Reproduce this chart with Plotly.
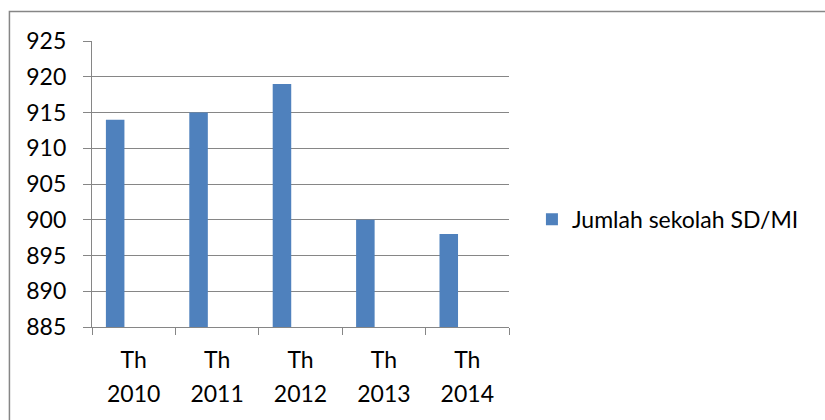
import plotly.graph_objects as go

# School counts per year
years = ["2010", "2011", "2012", "2013", "2014"]
prefix = "Th"
jumlah_sekolah = [914, 915, 919, 900, 898]
series_name = "Jumlah sekolah SD/MI"
y_ticks = [885, 890, 895, 900, 905, 910, 915, 920, 925]

BAR = "#4F81BD"
GRID = "#868686"
FONT = "Lato, 'Open Sans', sans-serif"
LBL = 23

tick_text = [
    f"<span style='font-size:{LBL}px'>{prefix}</span><br>"
    f"<span style='font-size:{LBL}px'>{y}</span>"
    for y in years
]

fig = go.Figure()
fig.add_trace(go.Bar(
    x=years,
    y=jumlah_sekolah,
    name=series_name,
    marker=dict(color=BAR, line=dict(width=0)),
    width=2 / 9,
    offset=-1 / 3,
    showlegend=True,
))

fig.update_layout(
    width=825,
    height=420,
    margin=dict(l=92, r=316, t=41, b=93, pad=0),
    paper_bgcolor="white",
    plot_bgcolor="white",
    font=dict(family=FONT, size=LBL, color="#000000"),
    showlegend=True,
    legend=dict(
        x=1.055, y=0.377, xanchor="left", yanchor="middle",
        font=dict(size=LBL, color="#000000"),
        bgcolor="rgba(0,0,0,0)",
        itemwidth=30,
    ),
    xaxis=dict(
        type="category",
        tickmode="array",
        tickvals=years,
        ticktext=tick_text,
        tickson="boundaries",
        ticks="outside",
        ticklen=7,
        tickwidth=1.3,
        tickcolor=GRID,
        showline=True,
        linecolor=GRID,
        linewidth=1.3,
        showgrid=False,
        tickfont=dict(size=26, family=FONT, color="#000000"),
        ticklabelstandoff=9,
        range=[-0.5, 4.5],
    ),
    yaxis=dict(
        range=[885, 925],
        tickmode="array",
        tickvals=y_ticks,
        ticktext=[str(v) for v in y_ticks],
        ticks="outside",
        ticklen=8,
        tickwidth=1.3,
        tickcolor=GRID,
        showline=True,
        linecolor=GRID,
        linewidth=1.3,
        showgrid=True,
        gridcolor=GRID,
        gridwidth=1.3,
        zeroline=False,
        tickfont=dict(size=LBL, family=FONT, color="#000000"),
        ticklabelstandoff=12,
    ),
    shapes=[
        dict(
            type="rect", xref="paper", yref="paper",
            x0=-0.198, x1=2.0, y0=-1.0, y1=1.103,
            line=dict(color=GRID, width=1.5),
            fillcolor="rgba(0,0,0,0)",
            layer="below",
        )
    ],
)

fig.write_html("out.html")
